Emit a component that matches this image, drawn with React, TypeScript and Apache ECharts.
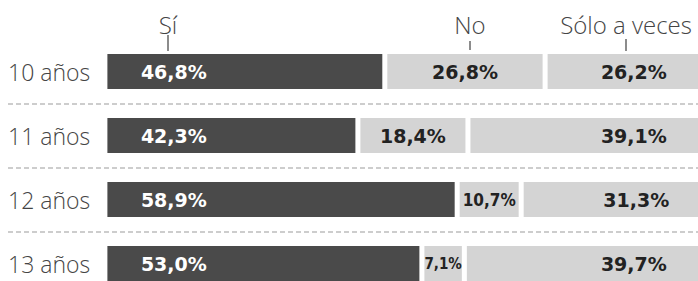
import React, { useEffect, useRef } from "react";
import * as echarts from "echarts";

const categories = ["10 años", "11 años", "12 años", "13 años"];
const seriesNames = ["Sí", "No", "Sólo a veces"];
const siValues = [46.8, 42.3, 58.9, 53.0];
const noValues = [26.8, 18.4, 10.7, 7.1];
const aVecesValues = [26.2, 39.1, 31.3, 39.7];

const fmt = (v: number) => v.toFixed(1).replace(".", ",") + "%";

export default function App() {
  const ref = useRef<HTMLDivElement>(null);
  useEffect(() => {
    if (!ref.current) return;
    const chart = echarts.init(ref.current, null, { renderer: "svg" });
    const lightFamily = "'Open Sans Light', 'Open Sans', sans-serif";
    const valueFont = {
      fontFamily: "DejaVu Sans",
      fontWeight: "bold" as const,
      fontSize: 19,
    };
    const base = {
      type: "bar" as const,
      stack: "total",
      barWidth: 40,
      itemStyle: { borderColor: "#ffffff", borderWidth: 2.5 },
    };
    const headerFont = {
      fontFamily: lightFamily,
      fontWeight: 300,
      fontSize: 24,
      fill: "#444",
      align: "center" as const,
      verticalAlign: "middle" as const,
    };
    chart.setOption({
      animation: false,
      grid: {
        left: 8,
        right: -5,
        top: 39.5,
        bottom: -14.5,
        outerBoundsMode: "none",
        containLabel: false,
      },
      xAxis: { type: "value", min: -16.2, max: 100, show: false },
      yAxis: {
        type: "category",
        data: categories,
        inverse: true,
        axisLine: { show: false, onZero: false },
        axisTick: { show: false },
        axisLabel: {
          inside: true,
          margin: 0,
          fontFamily: lightFamily,
          fontWeight: 300,
          fontSize: 23,
          color: "#444",
        },
        splitLine: {
          show: true,
          showMinLine: false,
          showMaxLine: false,
          lineStyle: { type: [5, 3], color: "#bdbdbd", width: 1.5 },
        },
      },
      series: [
        {
          ...base,
          name: seriesNames[0],
          data: siValues,
          itemStyle: { ...base.itemStyle, color: "#4a4a4a" },
          label: {
            show: true,
            position: "insideLeft",
            distance: 36,
            color: "#ffffff",
            ...valueFont,
            formatter: (p: any) => fmt(p.value),
          },
        },
        {
          ...base,
          name: seriesNames[1],
          data: noValues.map((v) =>
            v < 12
              ? {
                  value: v,
                  label: {
                    fontFamily: "DejaVu Sans Condensed",
                    fontSize: v < 8 ? 15 : 17,
                  },
                }
              : v
          ),
          itemStyle: { ...base.itemStyle, color: "#d4d4d4" },
          label: {
            show: true,
            position: "inside",
            color: "#222",
            ...valueFont,
            formatter: (p: any) => fmt(p.value),
          },
        },
        {
          ...base,
          name: seriesNames[2],
          data: aVecesValues,
          itemStyle: { ...base.itemStyle, color: "#d4d4d4" },
          label: {
            show: true,
            position: "insideRight",
            distance: 35,
            color: "#222",
            ...valueFont,
            formatter: (p: any) => fmt(p.value),
          },
        },
      ],
      graphic: [
        { type: "text", x: 168, y: 24, style: { ...headerFont, text: seriesNames[0] } },
        { type: "text", x: 470, y: 24, style: { ...headerFont, text: seriesNames[1] } },
        { type: "text", x: 626, y: 24, style: { ...headerFont, text: seriesNames[2] } },
        { type: "line", shape: { x1: 168, y1: 35, x2: 168, y2: 51 }, style: { stroke: "#666", lineWidth: 1.5 } },
        { type: "line", shape: { x1: 470, y1: 41, x2: 470, y2: 50 }, style: { stroke: "#666", lineWidth: 1.5 } },
        { type: "line", shape: { x1: 626, y1: 39, x2: 626, y2: 51 }, style: { stroke: "#666", lineWidth: 1.5 } },
      ],
    });
    return () => chart.dispose();
  }, []);
  return (
    <div
      ref={ref}
      style={{ position: "fixed", left: 0, top: 0, width: 698, height: 281, background: "#fff" }}
    />
  );
}
